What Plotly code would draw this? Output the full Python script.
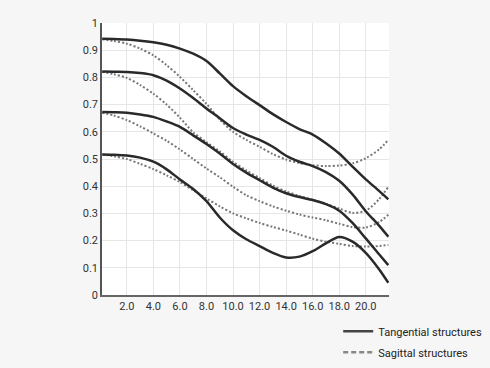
import plotly.graph_objects as go

x = [0.15, 1, 2, 3, 4, 5, 6, 7, 8, 9, 10, 11, 12, 13, 14, 15, 16, 17, 18, 19, 20, 21, 21.7]

tangential = [
    [0.942, 0.941, 0.939, 0.935, 0.929, 0.920, 0.906, 0.887, 0.860, 0.815, 0.768, 0.731, 0.698, 0.665, 0.636, 0.610, 0.590, 0.558, 0.520, 0.472, 0.425, 0.383, 0.352],
    [0.822, 0.821, 0.820, 0.816, 0.808, 0.788, 0.759, 0.724, 0.686, 0.650, 0.614, 0.590, 0.570, 0.545, 0.512, 0.490, 0.474, 0.452, 0.420, 0.370, 0.308, 0.255, 0.214],
    [0.673, 0.672, 0.670, 0.664, 0.655, 0.638, 0.618, 0.587, 0.555, 0.520, 0.482, 0.450, 0.422, 0.395, 0.374, 0.360, 0.349, 0.334, 0.310, 0.265, 0.208, 0.150, 0.110],
    [0.517, 0.516, 0.513, 0.505, 0.490, 0.462, 0.425, 0.390, 0.345, 0.285, 0.238, 0.205, 0.180, 0.155, 0.138, 0.141, 0.161, 0.190, 0.213, 0.196, 0.155, 0.095, 0.045],
]

sagittal = [
    [0.940, 0.934, 0.924, 0.906, 0.881, 0.845, 0.802, 0.753, 0.703, 0.645, 0.600, 0.570, 0.545, 0.518, 0.498, 0.485, 0.477, 0.474, 0.476, 0.484, 0.503, 0.535, 0.570],
    [0.820, 0.812, 0.798, 0.772, 0.740, 0.700, 0.652, 0.598, 0.562, 0.528, 0.490, 0.458, 0.430, 0.402, 0.381, 0.364, 0.350, 0.335, 0.318, 0.302, 0.310, 0.352, 0.398],
    [0.670, 0.660, 0.643, 0.620, 0.594, 0.567, 0.535, 0.500, 0.465, 0.433, 0.398, 0.367, 0.345, 0.326, 0.310, 0.296, 0.285, 0.275, 0.262, 0.250, 0.248, 0.268, 0.295],
    [0.517, 0.510, 0.500, 0.482, 0.463, 0.440, 0.415, 0.385, 0.355, 0.326, 0.300, 0.282, 0.265, 0.250, 0.237, 0.222, 0.207, 0.196, 0.188, 0.180, 0.178, 0.180, 0.184],
]

x_ticks = [2, 4, 6, 8, 10, 12, 14, 16, 18, 20]
x_tick_labels = ["2.0", "4.0", "6.0", "8.0", "10.0", "12.0", "14.0", "16.0", "18.0", "20.0"]
y_ticks = [0, 0.1, 0.2, 0.3, 0.4, 0.5, 0.6, 0.7, 0.8, 0.9, 1]
y_tick_labels = ["0", "0.1", "0.2", "0.3", "0.4", "0.5", "0.6", "0.7", "0.8", "0.9", "1"]
legend_names = ["Tangential structures", "Sagittal structures"]

fig = go.Figure()

for ys in sagittal:
    fig.add_trace(go.Scatter(x=x, y=ys, mode="lines", showlegend=False, hoverinfo="skip",
                             line=dict(color="#777777", width=2, dash="2px,2px", shape="spline", smoothing=0.8)))
for ys in tangential:
    fig.add_trace(go.Scatter(x=x, y=ys, mode="lines", showlegend=False, hoverinfo="skip",
                             line=dict(color="#2a2a2a", width=2.5, shape="spline", smoothing=0.8)))

fig.add_trace(go.Scatter(x=[None], y=[None], mode="lines", name=legend_names[0], legendgroup="t",
                         line=dict(color="#444444", width=2.5)))
fig.add_trace(go.Scatter(x=[None], y=[None], mode="lines", name=legend_names[1], legendgroup="s",
                         line=dict(color="#888888", width=2.5, dash="5px,3px")))

fig.update_layout(
    width=490, height=368,
    margin=dict(l=102, r=101, t=23, b=73, autoexpand=False),
    paper_bgcolor="#f6f6f6",
    plot_bgcolor="#ffffff",
    font=dict(family="Roboto", size=11, color="#333333"),
    legend=dict(x=0.823, y=-0.08, xanchor="left", yanchor="top",
                bgcolor="rgba(0,0,0,0)", font=dict(size=11, color="#222222"),
                tracegroupgap=2, itemwidth=30),
    xaxis=dict(range=[0.13, 21.75], tickvals=x_ticks, ticktext=x_tick_labels,
               showgrid=True, gridcolor="#e6e6e6", gridwidth=1,
               showline=True, linecolor="#666666", linewidth=2,
               zeroline=False, ticks="", ticklen=0),
    yaxis=dict(range=[0, 1], tickvals=y_ticks, ticktext=y_tick_labels,
               showgrid=True, gridcolor="#e6e6e6", gridwidth=1,
               showline=True, linecolor="#555555", linewidth=1.5,
               zeroline=False, ticks="", ticklen=0),
)

fig.write_html("out.html", config={"displayModeBar": False},
               post_script="document.body.style.margin='0';document.body.style.padding='0';")
